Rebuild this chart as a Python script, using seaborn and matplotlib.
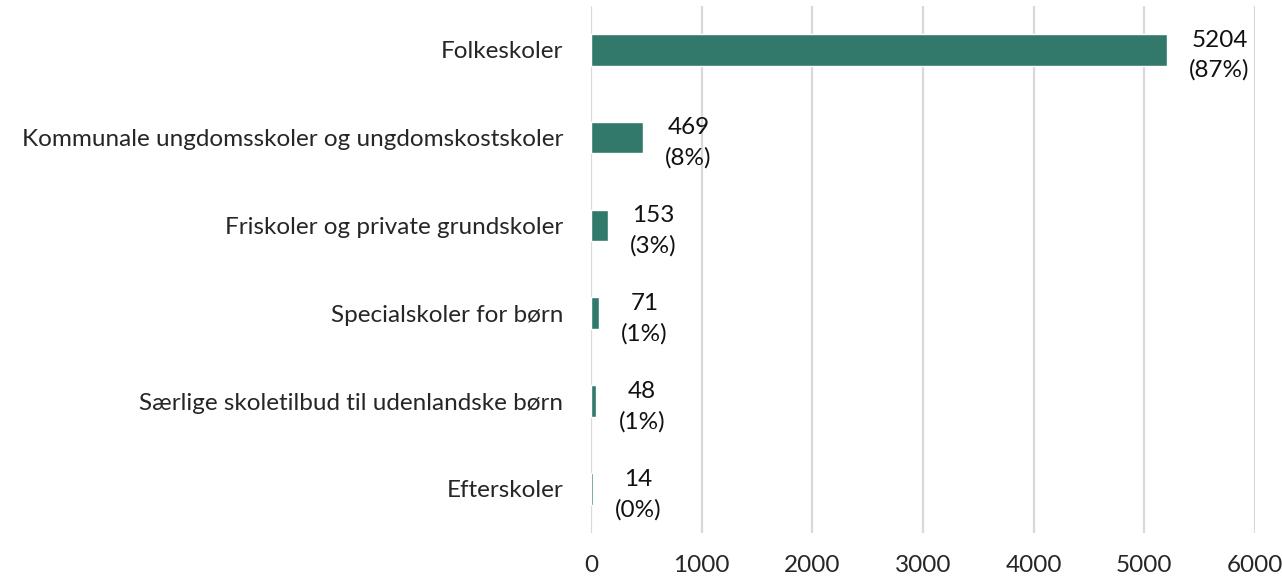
import matplotlib
matplotlib.use("Agg")
import matplotlib.pyplot as plt
import pandas as pd
import seaborn as sns

CATEGORIES = [
    "Folkeskoler",
    "Kommunale ungdomsskoler og ungdomskostskoler",
    "Friskoler og private grundskoler",
    "Specialskoler for børn",
    "Særlige skoletilbud til udenlandske børn",
    "Efterskoler",
]
COUNTS = [5204, 469, 153, 71, 48, 14]
PERCENTS = [87, 8, 3, 1, 1, 0]
XTICKS = [0, 1000, 2000, 3000, 4000, 5000, 6000]

BAR_COLOR = "#33796b"
FS = 17.5

sns.set_theme(style="white")
plt.rcParams["font.family"] = ["Lato", "DejaVu Sans"]

df = pd.DataFrame({"category": CATEGORIES, "count": COUNTS, "pct": PERCENTS})

fig = plt.figure(figsize=(12.82, 5.78), dpi=100)
ax = fig.add_axes([0.461, 0.078, 0.518, 0.912])

sns.barplot(data=df, x="count", y="category", color=BAR_COLOR, width=0.36,
            saturation=1, ax=ax, zorder=3)

ax.set_xlim(0, 6000)
ax.set_xticks(XTICKS)
ax.set_xticklabels([str(t) for t in XTICKS], fontsize=FS)
ax.tick_params(axis="y", labelsize=FS, length=0, pad=20)
ax.tick_params(axis="x", length=0, pad=16)
ax.grid(axis="x", color="#d9d9d9", linewidth=1.6, zorder=0)
ax.set_xlabel("")
ax.set_ylabel("")
for s in ax.spines.values():
    s.set_visible(False)

for i, (c, p) in enumerate(zip(COUNTS, PERCENTS)):
    ax.annotate(f"{c}\n({p}%)", xy=(c, i), xytext=(16, -4),
                textcoords="offset points", ha="left", va="center",
                multialignment="center", fontsize=FS, color="#111111",
                linespacing=1.5)

fig.savefig("out.png", dpi=100)
